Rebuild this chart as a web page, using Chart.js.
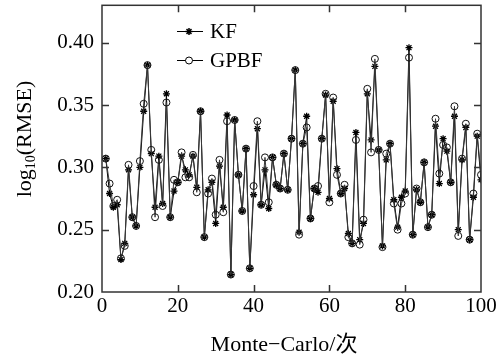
<!DOCTYPE html>
<html>
<head>
<meta charset="utf-8">
<script src="https://cdn.jsdelivr.net/npm/chart.js@4/dist/chart.umd.min.js"></script>
<style>
  html, body { margin: 0; padding: 0; background: #fff; }
  #wrap { width: 497px; height: 360px; }
</style>
</head>
<body>
<div id="wrap"><canvas id="rmse-chart"></canvas></div>
<script>
// 蒙特卡洛仿真次数 1..100
const runs = Array.from({ length: 100 }, (_, i) => i + 1);

// KF 每次仿真的 log10(RMSE)
const kfValues = [
  0.307, 0.279, 0.268, 0.270, 0.226, 0.239, 0.298, 0.260, 0.253, 0.300,
  0.345, 0.382, 0.311, 0.268, 0.309, 0.271, 0.359, 0.260, 0.281, 0.288,
  0.309, 0.298, 0.294, 0.309, 0.284, 0.345, 0.244, 0.282, 0.288, 0.255,
  0.301, 0.268, 0.342, 0.214, 0.338, 0.294, 0.265, 0.315, 0.219, 0.278,
  0.331, 0.270, 0.298, 0.267, 0.308, 0.286, 0.283, 0.311, 0.282, 0.323,
  0.378, 0.248, 0.319, 0.341, 0.259, 0.283, 0.280, 0.323, 0.358, 0.275,
  0.353, 0.299, 0.279, 0.283, 0.247, 0.239, 0.328, 0.242, 0.255, 0.359,
  0.322, 0.381, 0.314, 0.237, 0.306, 0.319, 0.274, 0.252, 0.276, 0.281,
  0.396, 0.246, 0.282, 0.272, 0.304, 0.252, 0.262, 0.333, 0.287, 0.323,
  0.313, 0.288, 0.341, 0.250, 0.306, 0.332, 0.242, 0.276, 0.325, 0.290
];

// GPBF 每次仿真的 log10(RMSE)
const gpbfValues = [
  0.307, 0.287, 0.269, 0.274, 0.227, 0.237, 0.302, 0.260, 0.253, 0.305,
  0.351, 0.382, 0.314, 0.260, 0.306, 0.269, 0.352, 0.260, 0.290, 0.288,
  0.312, 0.292, 0.292, 0.310, 0.280, 0.345, 0.244, 0.279, 0.291, 0.262,
  0.306, 0.264, 0.337, 0.214, 0.338, 0.294, 0.265, 0.315, 0.219, 0.285,
  0.337, 0.270, 0.308, 0.272, 0.308, 0.286, 0.283, 0.311, 0.282, 0.323,
  0.378, 0.246, 0.319, 0.332, 0.259, 0.283, 0.285, 0.323, 0.359, 0.272,
  0.356, 0.294, 0.279, 0.286, 0.244, 0.239, 0.322, 0.238, 0.258, 0.363,
  0.312, 0.387, 0.314, 0.236, 0.311, 0.319, 0.271, 0.250, 0.271, 0.279,
  0.388, 0.246, 0.283, 0.272, 0.304, 0.252, 0.262, 0.339, 0.295, 0.318,
  0.316, 0.288, 0.349, 0.245, 0.307, 0.335, 0.242, 0.279, 0.327, 0.294
];

// 坐标轴刻度
const xTicks = [0, 20, 40, 60, 80, 100];
const yTicks = [0.20, 0.25, 0.30, 0.35, 0.40];

const serif = '"Liberation Serif", "Times New Roman", serif';
const cjkSerif = '"Liberation Serif", "Noto Sans CJK SC", serif';

// 边框、向内刻度、图例和轴标题
const framePlugin = {
    id: 'frame',
    afterDatasetsDraw(chart) {
        const ctx = chart.ctx;
        const a = chart.chartArea;
        const xs = chart.scales.x;
        const ys = chart.scales.y;
        const tick = 7;
        ctx.save();
        ctx.strokeStyle = '#333';
        ctx.lineWidth = 1.5;
        ctx.strokeRect(a.left, a.top, a.right - a.left, a.bottom - a.top);
        ctx.beginPath();
        xTicks.slice(1, -1).forEach(v => {
            const px = Math.round(xs.getPixelForValue(v)) + 0.5;
            ctx.moveTo(px, a.bottom);
            ctx.lineTo(px, a.bottom - tick);
            ctx.moveTo(px, a.top);
            ctx.lineTo(px, a.top + tick);
        });
        yTicks.slice(1).forEach(v => {
            const py = Math.round(ys.getPixelForValue(v)) + 0.5;
            ctx.moveTo(a.left, py);
            ctx.lineTo(a.left + tick, py);
            ctx.moveTo(a.right, py);
            ctx.lineTo(a.right - tick, py);
        });
        ctx.stroke();
        ctx.restore();
    },
    afterDraw(chart) {
        const ctx = chart.ctx;
        ctx.save();
        ctx.fillStyle = '#000';
        ctx.strokeStyle = '#000';

        // 图例
        ctx.lineWidth = 1;
        ctx.font = '21px ' + serif;
        ctx.textBaseline = 'middle';
        ctx.textAlign = 'left';
        const lx0 = 177, lx1 = 203, mx = 189;
        // KF
        ctx.beginPath();
        ctx.moveTo(lx0, 31.5);
        ctx.lineTo(lx1, 31.5);
        ctx.stroke();
        ctx.beginPath();
        for (let k = 0; k < 4; k++) {
            const ang = k * Math.PI / 4;
            ctx.moveTo(mx - 3.5 * Math.cos(ang), 31.5 - 3.5 * Math.sin(ang));
            ctx.lineTo(mx + 3.5 * Math.cos(ang), 31.5 + 3.5 * Math.sin(ang));
        }
        ctx.lineWidth = 1.5;
        ctx.stroke();
        ctx.fillText('KF', 210, 32);
        // GPBF
        ctx.lineWidth = 1;
        ctx.beginPath();
        ctx.moveTo(lx0, 60.5);
        ctx.lineTo(lx1, 60.5);
        ctx.stroke();
        ctx.beginPath();
        ctx.arc(mx, 60.5, 3.5, 0, Math.PI * 2);
        ctx.fillStyle = '#fff';
        ctx.fill();
        ctx.stroke();
        ctx.fillStyle = '#000';
        ctx.fillText('GPBF', 210, 61);

        // x 轴标题
        ctx.font = '22px ' + cjkSerif;
        ctx.textAlign = 'center';
        ctx.textBaseline = 'middle';
        ctx.fillText('Monte\u2212Carlo/次', 284, 345);

        // y 轴标题 log10(RMSE)
        ctx.translate(25, 139);
        ctx.rotate(-Math.PI / 2);
        ctx.textAlign = 'left';
        const big = '22px ' + serif;
        const small = '14px ' + serif;
        ctx.font = big;
        const w1 = ctx.measureText('log').width;
        const w3 = ctx.measureText('(RMSE)').width;
        ctx.font = small;
        const w2 = ctx.measureText('10').width;
        let x = -(w1 + w2 + w3) / 2;
        ctx.font = big;
        ctx.fillText('log', x, 0);
        x += w1;
        ctx.font = small;
        ctx.fillText('10', x, 6);
        x += w2;
        ctx.font = big;
        ctx.fillText('(RMSE)', x, 0);
        ctx.restore();
    }
};

const ctx = document.getElementById('rmse-chart').getContext('2d');

const rmseChart = new Chart(ctx, {
    type: 'line',
    data: {
        datasets: [
            {
                label: 'GPBF',
                data: runs.map((r, i) => ({ x: r, y: gpbfValues[i] })),
                borderColor: '#3a3a3a',
                borderWidth: 1,
                pointStyle: 'circle',
                pointRadius: 3.5,
                pointBorderWidth: 1,
                pointBorderColor: '#111',
                pointBackgroundColor: 'rgba(255,255,255,0)',
                tension: 0
            },
            {
                label: 'KF',
                data: runs.map((r, i) => ({ x: r, y: kfValues[i] })),
                borderColor: '#000',
                borderWidth: 1,
                pointStyle: 'star',
                pointRadius: 3.5,
                pointBorderWidth: 1.3,
                pointBorderColor: '#000',
                pointBackgroundColor: '#000',
                tension: 0
            }
        ]
    },
    options: {
        responsive: true,
        maintainAspectRatio: false,
        animation: false,
        layout: { padding: { left: 0, top: 5, right: 16, bottom: 0 } },
        plugins: {
            legend: { display: false },
            tooltip: { enabled: false }
        },
        scales: {
            x: {
                type: 'linear',
                min: 0,
                max: 100,
                afterBuildTicks: s => { s.ticks = xTicks.map(v => ({ value: v })); },
                afterFit: s => {
                    s.height = 68;
                    s.paddingLeft = 0;
                    s.paddingRight = 0;
                },
                grid: { display: false, drawTicks: false },
                border: { display: false },
                ticks: {
                    padding: 2,
                    maxRotation: 0,
                    color: '#000',
                    font: { family: serif, size: 21 }
                }
            },
            y: {
                min: 0.20,
                max: 0.43,
                afterBuildTicks: s => { s.ticks = yTicks.map(v => ({ value: v })); },
                afterFit: s => {
                    s.width = 102;
                    s.paddingTop = 0;
                    s.paddingBottom = 0;
                },
                grid: { display: false, drawTicks: false },
                border: { display: false },
                ticks: {
                    padding: 8,
                    color: '#000',
                    font: { family: serif, size: 21 },
                    callback: v => v.toFixed(2)
                }
            }
        }
    },
    plugins: [framePlugin]
});
</script>
</body>
</html>
